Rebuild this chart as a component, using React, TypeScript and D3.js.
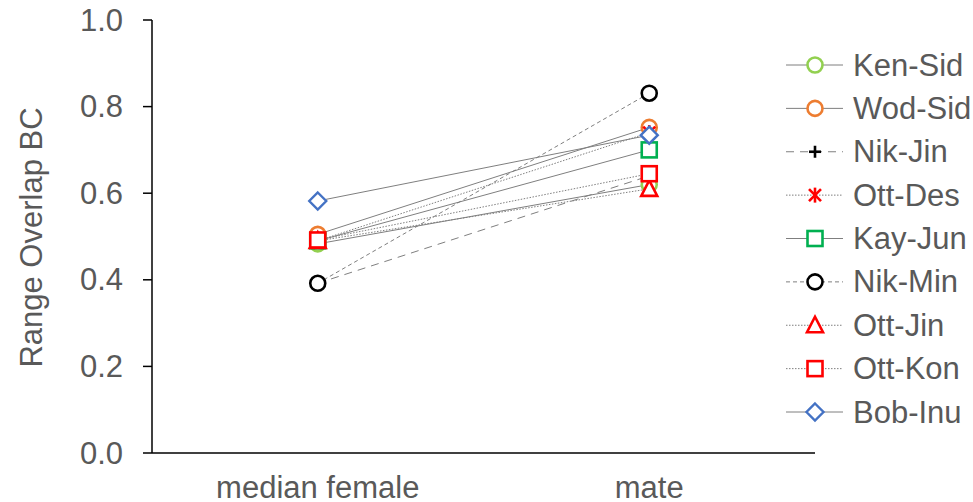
import React from "react";
import * as d3 from "d3";

const categories = ["median female", "mate"];
const seriesNames = ["Ken-Sid", "Wod-Sid", "Nik-Jin", "Ott-Des", "Kay-Jun", "Nik-Min", "Ott-Jin", "Ott-Kon", "Bob-Inu"];
const medianFemale = [0.483, 0.505, 0.392, 0.49, 0.49, 0.392, 0.49, 0.492, 0.582];
const mate = [0.62, 0.752, 0.64, 0.74, 0.70, 0.831, 0.61, 0.645, 0.734];
const yTicks = [0, 0.2, 0.4, 0.6, 0.8, 1.0];

type Style = { color: string; marker: string; dash: string };
const styles: Style[] = [
  { color: "#92d050", marker: "circle", dash: "" },
  { color: "#ed7d31", marker: "circle", dash: "" },
  { color: "#000000", marker: "plus", dash: "8,6" },
  { color: "#ff0000", marker: "star", dash: "1.5,1.5" },
  { color: "#00b050", marker: "square", dash: "" },
  { color: "#000000", marker: "circle", dash: "4,3" },
  { color: "#ff0000", marker: "triangle", dash: "1.5,1.5" },
  { color: "#ff0000", marker: "square", dash: "1.5,1.5" },
  { color: "#4472c4", marker: "diamond", dash: "" },
];

const FONT = "'Liberation Sans', Arial, sans-serif";
const TXT = "#595959";
const FS = 31;

function Marker({ x, y, s }: { x: number; y: number; s: Style }) {
  const c = s.color;
  const sw = 2.6;
  if (s.marker === "circle")
    return <circle cx={x} cy={y} r={7.5} fill="white" stroke={c} strokeWidth={sw} />;
  if (s.marker === "square")
    return <rect x={x - 7.5} y={y - 7.5} width={15} height={15} fill="white" stroke={c} strokeWidth={sw} />;
  if (s.marker === "triangle")
    return <path d={`M${x},${y - 8.5} L${x + 8},${y + 7} L${x - 8},${y + 7} Z`} fill="white" stroke={c} strokeWidth={sw} />;
  if (s.marker === "diamond")
    return <path d={`M${x},${y - 8.5} L${x + 8.5},${y} L${x},${y + 8.5} L${x - 8.5},${y} Z`} fill="white" stroke={c} strokeWidth={2.4} />;
  if (s.marker === "plus")
    return (
      <g stroke={c} strokeWidth={2.6}>
        <line x1={x - 6} x2={x + 6} y1={y} y2={y} />
        <line x1={x} x2={x} y1={y - 6} y2={y + 6} />
      </g>
    );
  // star (asterisk)
  return (
    <g stroke={c} strokeWidth={2.6}>
      <line x1={x - 6} x2={x + 6} y1={y - 6} y2={y + 6} />
      <line x1={x - 6} x2={x + 6} y1={y + 6} y2={y - 6} />
      <line x1={x} x2={x} y1={y - 7.5} y2={y + 7.5} />
    </g>
  );
}

export default function App() {
  const W = 973, H = 502;
  const left = 152, right = 815, top = 20, bottom = 453;
  const x = d3.scaleBand<string>().domain(categories).range([left, right]);
  const y = d3.scaleLinear().domain([0, 1]).range([bottom, top]);
  const cx = (c: string) => (x(c) as number) + x.bandwidth() / 2;
  const legendY = d3.scaleLinear().domain([0, 8]).range([65, 412]);

  return (
    <svg width={W} height={H} style={{ position: "absolute", left: 0, top: 0 }} fontFamily={FONT}>
      <rect width={W} height={H} fill="white" />
      {/* y axis */}
      <line x1={left} x2={left} y1={top} y2={bottom} stroke="black" strokeWidth={1.5} />
      {yTicks.map((t) => (
        <g key={t}>
          <line x1={left - 9} x2={left} y1={y(t)} y2={y(t)} stroke="black" strokeWidth={1.5} />
          <text x={123} y={y(t)} textAnchor="end" dominantBaseline="central" fontSize={FS} fill={TXT}>
            {t.toFixed(1)}
          </text>
        </g>
      ))}
      <text
        transform={`translate(31,${(top + bottom) / 2 + 1}) rotate(-90)`}
        textAnchor="middle"
        dominantBaseline="central"
        fontSize={FS}
        fill={TXT}
      >
        Range Overlap BC
      </text>
      {/* x axis */}
      <line x1={left} x2={right} y1={bottom} y2={bottom} stroke="black" strokeWidth={1.5} />
      {categories.map((c) => (
        <text key={c} x={cx(c)} y={498} textAnchor="middle" fontSize={FS} fill={TXT}>
          {c}
        </text>
      ))}
      {/* lines */}
      {seriesNames.map((n, i) => (
        <line
          key={"l" + n}
          x1={cx(categories[0])}
          y1={y(medianFemale[i])}
          x2={cx(categories[1])}
          y2={y(mate[i])}
          stroke="#7f7f7f"
          strokeWidth={1}
          strokeDasharray={styles[i].dash || undefined}
        />
      ))}
      {/* markers */}
      {seriesNames.map((n, i) => (
        <g key={"m" + n}>
          <Marker x={cx(categories[0])} y={y(medianFemale[i])} s={styles[i]} />
          <Marker x={cx(categories[1])} y={y(mate[i])} s={styles[i]} />
        </g>
      ))}
      {/* legend */}
      {seriesNames.map((n, i) => {
        const ly = legendY(i);
        return (
          <g key={"g" + n}>
            <line x1={786} x2={843} y1={ly} y2={ly} stroke="#7f7f7f" strokeWidth={1} strokeDasharray={styles[i].dash || undefined} />
            <Marker x={815} y={ly} s={styles[i]} />
            <text x={853} y={ly} dominantBaseline="central" fontSize={FS} fill={TXT}>
              {n}
            </text>
          </g>
        );
      })}
    </svg>
  );
}
